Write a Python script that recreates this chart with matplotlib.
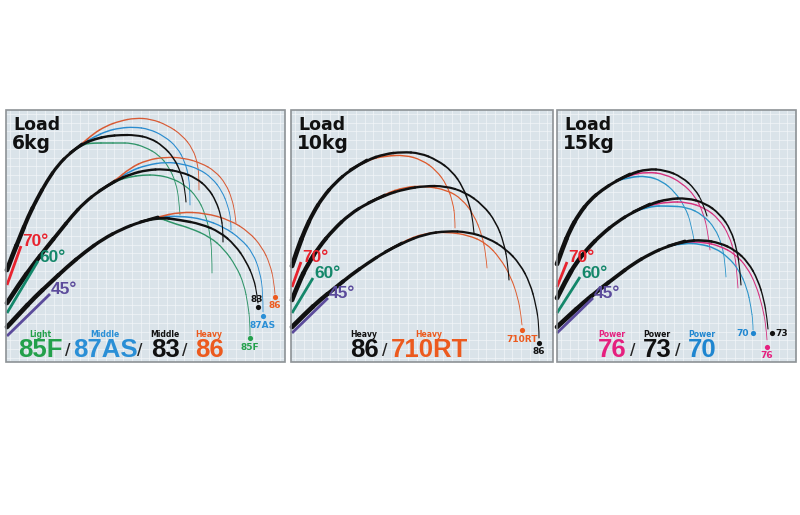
import matplotlib.pyplot as plt
from matplotlib.patches import Rectangle, PathPatch
from matplotlib.path import Path
import numpy as np

# everything is in pixel coordinates of the 800x515 picture (y goes down)
panel_x = [(6, 285), (291, 553), (557, 796)]
panel_top, panel_bot = 110, 362
loads = ["6kg", "10kg", "15kg"]

# ---- Load 6kg ----
butt_6_70 = [(7, 270), (13, 254), (20, 237), (28, 217), (37, 199), (47, 181), (58, 165), (70, 153), (82, 144)]
butt_6_60 = [(7, 303), (20, 283), (33, 265), (47, 247), (60, 231), (72, 216), (84, 203), (99, 191), (115, 181)]
butt_6_45 = [(7, 327), (20, 313), (35, 297), (50, 283), (67, 267), (85, 252), (103, 239), (122, 229), (140, 222), (158, 217)]

rod_6_70 = {
    "86":   [(82, 144), (93, 134), (106, 126), (120, 121), (135, 118), (151, 119), (167, 125), (182, 135), (193, 149), (198, 165), (199, 180), (199, 190)],
    "87AS": [(82, 144), (94, 137), (107, 131), (120, 128), (134, 127), (149, 129), (164, 136), (177, 147), (185, 162), (189, 178), (190, 195), (190, 205)],
    "83":   [(82, 144), (95, 139), (108, 136), (121, 135), (135, 135), (150, 138), (163, 146), (174, 158), (181, 173), (185, 189), (186, 202)],
    "85F":  [(82, 144), (95, 143), (107, 143), (119, 143), (131, 143), (145, 147), (159, 155), (169, 167), (176, 183), (179, 200), (180, 215)],
}
rod_6_60 = {
    "86":   [(115, 181), (130, 168), (147, 160), (166, 157), (184, 158), (201, 163), (215, 171), (226, 184), (232, 199), (235, 213), (236, 223)],
    "87AS": [(115, 181), (130, 171), (147, 165), (166, 162), (183, 164), (199, 169), (212, 178), (222, 191), (228, 206), (231, 220), (231, 230)],
    "83":   [(115, 181), (131, 174), (147, 170), (164, 169), (181, 172), (196, 178), (208, 188), (216, 201), (221, 216), (223, 230), (223, 242)],
    "85F":  [(115, 181), (129, 177), (143, 175), (157, 175), (171, 178), (185, 185), (197, 197), (205, 213), (210, 233), (212, 255), (212, 273)],
}
rod_6_45 = {
    "86":   [(158, 217), (180, 212), (205, 213), (230, 220), (249, 232), (262, 247), (270, 264), (274, 282), (275, 294)],
    "87AS": [(158, 217), (180, 216), (203, 219), (224, 227), (241, 239), (253, 253), (260, 272), (263, 292), (263, 312)],
    "83":   [(158, 217), (180, 220), (201, 224), (220, 232), (235, 245), (246, 261), (254, 279), (257, 295), (258, 303)],
    "85F":  [(158, 217), (172, 223), (190, 228), (210, 237), (224, 249), (236, 266), (244, 284), (248, 305), (250, 322), (250, 335)],
}
names_6 = ["85F", "87AS", "83", "86"]
kinds_6 = ["Light", "Middle", "Middle", "Heavy"]
ends_6 = {"86": (275, 297), "87AS": (263, 316), "83": (258, 307), "85F": (250, 338)}

# ---- Load 10kg ----
butt_10_70 = [(292, 266), (298, 248), (305, 230), (313, 213), (323, 197), (335, 183), (350, 170), (367, 160)]
butt_10_60 = [(292, 300), (299, 282), (308, 264), (319, 247), (333, 230), (350, 214), (368, 203), (385, 195)]
butt_10_45 = [(292, 327), (306, 313), (320, 300), (335, 288), (351, 275), (368, 263), (385, 252), (402, 243)]

rod_10_70 = {
    "86":    [(367, 160), (385, 154), (402, 152), (420, 153), (437, 160), (452, 171), (463, 187), (470, 206), (473, 222), (474, 233)],
    "710RT": [(367, 160), (385, 156), (405, 155), (422, 160), (436, 170), (447, 185), (453, 203), (455, 218), (455, 228)],
}
rod_10_60 = {
    "86":    [(385, 195), (405, 189), (425, 186), (445, 186), (465, 192), (483, 205), (496, 222), (504, 243), (508, 265), (509, 280)],
    "710RT": [(385, 194), (405, 187), (425, 186), (447, 190), (462, 199), (474, 215), (482, 235), (486, 255), (487, 268)],
}
rod_10_45 = {
    "86":    [(402, 243), (425, 234), (447, 231), (468, 232), (488, 238), (506, 249), (520, 264), (530, 283), (536, 305), (539, 325), (539, 338)],
    "710RT": [(402, 242), (425, 233), (447, 232), (468, 235), (486, 243), (500, 258), (511, 277), (518, 298), (521, 315), (522, 325)],
}
names_10 = ["86", "710RT"]
kinds_10 = ["Heavy", "Heavy"]
ends_10 = {"86": (539, 343), "710RT": (522, 330)}

# ---- Load 15kg ----
butt_15_70 = [(557, 264), (563, 247), (570, 230), (579, 214), (590, 200), (602, 190), (616, 181), (630, 174)]
butt_15_60 = [(557, 298), (566, 280), (576, 263), (588, 248), (602, 234), (617, 222), (633, 212), (650, 204)]
butt_15_45 = [(557, 327), (570, 315), (583, 303), (600, 289), (617, 276), (633, 264), (650, 254), (668, 246), (685, 241)]

rod_15_70 = {
    "76": [(630, 175), (647, 172), (665, 174), (682, 183), (695, 196), (703, 212), (708, 232), (710, 250)],
    "73": [(630, 174), (647, 169), (665, 170), (682, 177), (695, 189), (703, 203), (707, 216)],
    "70": [(630, 177), (647, 176), (662, 181), (675, 192), (685, 207), (691, 223), (694, 240)],
}
rod_15_60 = {
    "76": [(650, 205), (668, 202), (687, 202), (705, 208), (719, 219), (729, 235), (735, 255), (737, 275), (738, 288)],
    "73": [(650, 204), (668, 199), (687, 198), (705, 203), (720, 214), (731, 230), (737, 250), (740, 270), (741, 285)],
    "70": [(650, 206), (668, 206), (687, 207), (703, 215), (715, 228), (722, 245), (725, 262), (726, 277)],
}
rod_15_45 = {
    "76": [(685, 242), (703, 242), (720, 246), (735, 254), (747, 267), (756, 285), (762, 305), (766, 325), (767, 340)],
    "73": [(685, 241), (703, 240), (720, 243), (735, 250), (748, 262), (758, 280), (764, 300), (767, 318), (768, 329)],
    "70": [(685, 243), (700, 244), (715, 248), (728, 257), (739, 270), (747, 288), (751, 307), (753, 322), (753, 330)],
}
names_15 = ["76", "73", "70"]
kinds_15 = ["Power", "Power", "Power"]
ends_15 = {"76": (767, 347), "73": (772, 333), "70": (753, 333)}

# angle markers per panel: (start, end) of the short coloured line
angle_lines = [
    {"70": [(7, 285), (21, 246)], "60": [(7, 313), (38, 261)], "45": [(7, 336), (50, 294)]},
    {"70": [(292, 287), (301, 262)], "60": [(292, 313), (313, 278)], "45": [(292, 333), (328, 298)]},
    {"70": [(557, 287), (567, 262)], "60": [(557, 313), (580, 277)], "45": [(557, 333), (593, 298)]},
]
label_x = [[40, 105, 165, 209], [364, 429], [612, 657, 702]]
slash_x = [[68, 140, 185], [385], [633, 678]]

angle_col = {"70": "#e8232e", "60": "#14876a", "45": "#5b4b9b"}
line_col = {"85F": "#2e9468", "87AS": "#2a8ccf", "83": "#111111", "86": "#d85a34",
            "710RT": "#de5a2c", "76": "#d6307e", "73": "#111111", "70": "#2a93c9"}
text_col = {"85F": "#23a04b", "87AS": "#2a8fd6", "83": "#111111", "86": "#ec5a1e",
            "710RT": "#ec5a1e", "76": "#e5207f", "73": "#111111", "70": "#1f86d0"}
# panel 2 "86" is the black rod
panel_line_col = [dict(line_col), dict(line_col, **{"86": "#111111"}), dict(line_col)]
panel_text_col = [dict(text_col), dict(text_col, **{"86": "#111111"}), dict(text_col)]


def rod(ax, pts, w0, w1, color, z):
    # smooth curve: read points used as quadratic bezier controls, width tapers toward the tip
    p = np.array(pts, dtype=float)
    n = len(p)
    widths = np.linspace(w0, w1, n - 2)
    for k in range(n - 2):
        a = p[0] if k == 0 else (p[k] + p[k + 1]) / 2
        c = p[k + 1]
        b = p[n - 1] if k == n - 3 else (p[k + 1] + p[k + 2]) / 2
        path = Path([a, c, b], [Path.MOVETO, Path.CURVE3, Path.CURVE3])
        ax.add_patch(PathPatch(path, facecolor="none", edgecolor=color, lw=widths[k],
                               capstyle="round", joinstyle="round", zorder=z))


fig = plt.figure(figsize=(8, 5.15), dpi=100)
ax = fig.add_axes([0, 0, 1, 1])
ax.set_xlim(0, 800)
ax.set_ylim(515, 0)
ax.axis("off")

panels = [
    (butt_6_70, butt_6_60, butt_6_45, rod_6_70, rod_6_60, rod_6_45, names_6, kinds_6, ends_6),
    (butt_10_70, butt_10_60, butt_10_45, rod_10_70, rod_10_60, rod_10_45, names_10, kinds_10, ends_10),
    (butt_15_70, butt_15_60, butt_15_45, rod_15_70, rod_15_60, rod_15_45, names_15, kinds_15, ends_15),
]

for i, (b70, b60, b45, r70, r60, r45, names, kinds, ends) in enumerate(panels):
    x0, x1 = panel_x[i]
    lc_ = panel_line_col[i]
    tc_ = panel_text_col[i]
    ax.add_patch(Rectangle((x0, panel_top), x1 - x0, panel_bot - panel_top,
                           facecolor="#dae3e9", edgecolor="none", zorder=0))
    # grid
    for gx in np.arange(x0 + 4, x1, 8.7):
        ax.plot([gx, gx], [panel_top, panel_bot], color="#f4f7f9", lw=0.45, zorder=1)
    for gy in np.arange(panel_top + 4, panel_bot, 8.7):
        ax.plot([x0, x1], [gy, gy], color="#f4f7f9", lw=0.45, zorder=1)
    ax.add_patch(Rectangle((x0, panel_top), x1 - x0, panel_bot - panel_top,
                           facecolor="none", edgecolor="#8d9296", lw=1.2, zorder=10))

    ax.text(x0 + 7, 130, "Load", fontsize=12.5, color="#111111", va="baseline", ha="left",
            family="DejaVu Sans", fontweight="semibold", zorder=6)
    ax.text(x0 + 6, 149, loads[i], fontsize=13.5, color="#111111", va="baseline", ha="left",
            family="DejaVu Sans", fontweight="heavy", zorder=6)

    # rods: coloured first, black on top, thick common butt last
    for butt, rods in [(b70, r70), (b60, r60), (b45, r45)]:
        order = [n for n in names if lc_[n] != "#111111"] + [n for n in names if lc_[n] == "#111111"]
        for n in order:
            pts = [butt[-2]] + rods[n]
            if lc_[n] == "#111111":
                rod(ax, pts, 2.0, 0.8, lc_[n], 4)
            else:
                rod(ax, pts, 1.2, 0.6, lc_[n], 3)
        rod(ax, butt, 3.4, 2.1, "#111111", 5)

    # angle markers
    for a, (p, q) in angle_lines[i].items():
        ax.plot([p[0], q[0]], [p[1], q[1]], color=angle_col[a], lw=2.0, solid_capstyle="butt", zorder=6)
        ax.text(q[0] + 1, q[1] - 4, a + "°", color=angle_col[a], fontsize=12.5,
                family="Liberation Sans", fontweight="bold", ha="left", va="center", zorder=6)

    # tip dots and small names
    for n in names:
        ex, ey = ends[n]
        ax.scatter([ex], [ey], s=14, color=tc_[n], zorder=7, linewidths=0)
        if i == 2 and n == "70":
            ax.text(ex - 4, ey, n, fontsize=6.5, color=tc_[n], fontweight="bold", ha="right", va="center")
        elif i == 2 and n == "73":
            ax.text(ex + 3, ey, n, fontsize=6.5, color=tc_[n], fontweight="bold", ha="left", va="center")
        elif i == 0 and n == "83":
            ax.text(ex - 1, ey - 8, n, fontsize=6.5, color=tc_[n], fontweight="bold", ha="center", va="center")
        else:
            ax.text(ex, ey + 9, n, fontsize=6.5, color=tc_[n], fontweight="bold", ha="center", va="center")

    # bottom labels
    for j, n in enumerate(names):
        ax.text(label_x[i][j], 337, kinds[j], fontsize=5.5, color=tc_[n], fontweight="bold",
                ha="center", va="baseline", zorder=6)
        ax.text(label_x[i][j], 357, n, fontsize=18.5, color=tc_[n], fontweight="bold",
                family="Liberation Sans", ha="center", va="baseline", zorder=6)
    for sx in slash_x[i]:
        ax.text(sx, 356, "/", fontsize=14, color="#222222", ha="center", va="baseline",
                family="Liberation Sans", zorder=6)

fig.savefig("out.png", dpi=100)
